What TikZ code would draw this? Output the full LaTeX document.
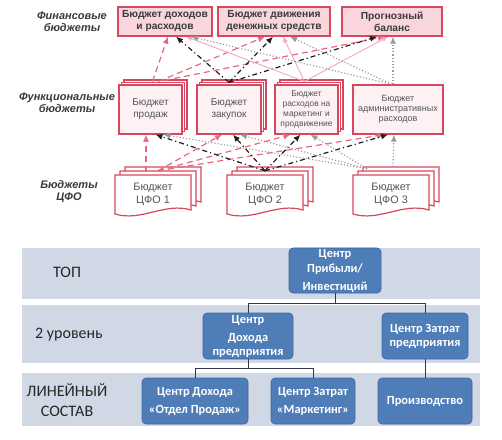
\documentclass[tikz,border=0pt]{standalone}
\usepackage{fontspec}
\setmainfont{Liberation Sans}
\newfontfamily\calfont{Carlito}
\usetikzlibrary{arrows.meta,shadows}

\definecolor{pinkline}{HTML}{D9475F}
\definecolor{finfill}{HTML}{F9D6DC}
\definecolor{funcfill}{HTML}{FDF1F3}
\definecolor{pinkarrow}{HTML}{E8687E}
\definecolor{lightpink}{HTML}{F4A9B6}
\definecolor{darkdash}{HTML}{1E1E1E}
\definecolor{grayarrow}{HTML}{9A9A9A}
\definecolor{bandfill}{HTML}{D0D8E6}
\definecolor{nodeblue}{HTML}{4F7DB8}
\definecolor{nodeedge}{HTML}{3D689F}
\definecolor{linkline}{HTML}{2E3A4A}
\definecolor{labeltext}{HTML}{3A3A3A}
\definecolor{boxtext}{HTML}{555555}

\newcommand{\docpage}[3]{%
  \filldraw[docstyle] (#1,#2) -- ({#1+#3},#2) -- ({#1+#3},{#2+35})
    .. controls ({#1+0.65*#3},{#2+27}) and ({#1+0.35*#3},{#2+47}) .. (#1,{#2+39}) -- cycle;}

\begin{document}
\begin{tikzpicture}[x=1pt,y=-1pt,
  fin/.style={draw=pinkline, line width=1.3pt, fill=finfill, minimum height=29pt,
    align=center, inner sep=1pt, font=\fontsize{10.2}{12}\selectfont\bfseries, text=labeltext},
  func/.style={draw=pinkline, line width=1.2pt, fill=funcfill, minimum height=49pt,
    align=center, inner sep=1pt, font=\fontsize{10}{12}\selectfont, text=boxtext},
  stack/.style={double copy shadow={shadow xshift=2.5pt, shadow yshift=2.5pt,
    fill=white, draw=pinkline, line width=1.2pt}},
  docstyle/.style={draw=pinkline, line width=1.2pt, fill=white},
  doctext/.style={minimum width=76pt, minimum height=39pt, inner sep=0pt, align=center,
    font=\fontsize{10.8}{13}\selectfont, text=boxtext},
  lbl/.style={align=center, inner sep=0pt, font=\fontsize{11}{11.5}\selectfont\bfseries\itshape, text=labeltext},
  pinkdash/.style={draw=pinkarrow, line width=1.2pt, dash pattern=on 6pt off 4pt,
    -{Latex[length=7pt,width=6pt]}},
  blackdd/.style={draw=darkdash, line width=1.2pt, dash pattern=on 5pt off 3pt on 1.2pt off 3pt,
    -{Latex[length=7pt,width=6pt]}},
  pinksolid/.style={draw=lightpink, line width=0.9pt, -{Latex[length=6pt,width=5pt]}},
  graydot/.style={draw=grayarrow, line width=1.1pt, dash pattern=on 1.2pt off 2pt,
    -{Latex[length=7pt,width=6pt]}},
  band/.style={fill=bandfill, draw=none},
  bandlbl/.style={align=center, inner sep=0pt, font=\calfont\fontsize{16}{18}\selectfont, text=black!85},
  bnode/.style={rectangle, rounded corners=4pt, fill=nodeblue, draw=nodeedge, line width=0.6pt,
    text=white, font=\calfont\bfseries\fontsize{12.4}{14}\selectfont, align=center, inner sep=1pt,
    minimum height=46pt},
  link/.style={draw=linkline, line width=1pt}
]
\useasboundingbox (0,0) rectangle (502,439);

% ---------- upper part: budgets ----------
\node[lbl] (lfin) at (72,21.5) {Финансовые\\бюджеты};
\node[lbl] (lfunc) at (67,102.5) {Функциональные\\бюджеты};
\node[lbl] (lcfo) at (69,191.5) {Бюджеты\\ЦФО};

\node[fin, minimum width=94pt] (bdr) at (165,21.5) {Бюджет доходов\\и расходов};
\node[fin, minimum width=112pt] (dds) at (274,21.5) {Бюджет движения\\денежных средств};
\node[fin, minimum width=100pt] (bal) at (392,21.5) {Прогнозный\\баланс};

\node[func, stack, minimum width=63pt] (prod) at (150.5,109.5) {Бюджет\\продаж};
\node[func, stack, minimum width=64pt] (zak) at (229,109.5) {Бюджет\\закупок};
\node[func, stack, minimum width=63pt, font=\fontsize{8.4}{10}\selectfont] (mark) at (306.5,109.5)
  {Бюджет\\расходов на\\маркетинг и\\продвижение};
\node[func, minimum width=90pt, font=\fontsize{9}{10}\selectfont] (adm) at (398,109.5)
  {Бюджет\\административных\\расходов};

\docpage{125}{167}{76}
\docpage{120}{171}{76}
\docpage{115}{175}{76}
\node[doctext] (cfo1) at (153,194.5) {Бюджет\\ЦФО 1};
\docpage{237}{167}{76}
\docpage{232}{171}{76}
\docpage{227}{175}{76}
\node[doctext] (cfo2) at (265,194.5) {Бюджет\\ЦФО 2};
\docpage{363}{167}{76}
\docpage{358}{171}{76}
\docpage{353}{175}{76}
\node[doctext] (cfo3) at (391,194.5) {Бюджет\\ЦФО 3};

% functional -> financial
\draw[pinkdash] ([xshift=2pt,yshift=3pt]prod.north) -- ([xshift=3pt]bdr.south);
\draw[pinkdash] ([xshift=8pt,yshift=3pt]prod.north) -- ([xshift=-9pt]dds.south);
\draw[pinkdash] ([xshift=14pt,yshift=4pt]prod.north) -- ([xshift=-7pt]bal.south);
\draw[blackdd] ([yshift=2pt]zak.north) -- ([xshift=11pt]bdr.south);
\draw[blackdd] ([yshift=2pt]zak.north) -- ([xshift=-1pt]dds.south);
\draw[blackdd] ([yshift=2pt]zak.north) -- ([xshift=-15pt]bal.south);
\draw[pinksolid] ([xshift=-2pt,yshift=3pt]mark.north) -- ([xshift=21pt]bdr.south);
\draw[pinksolid] ([xshift=-2pt,yshift=3pt]mark.north) -- ([xshift=9pt]dds.south);
\draw[pinksolid] ([xshift=-2pt,yshift=3pt]mark.north) -- ([xshift=-4pt]bal.south);
\draw[graydot] ([xshift=-6pt]adm.north) -- ([xshift=26pt]bdr.south);
\draw[graydot] ([xshift=-6pt]adm.north) -- ([xshift=16pt]dds.south);
\draw[graydot] ([xshift=-5pt]adm.north) -- ([xshift=1pt]bal.south);

% CFO -> functional
\draw[pinkdash] ([xshift=-7pt,yshift=3pt]cfo1.north) -- ([xshift=-4.5pt]prod.south);
\draw[pinkdash] ([xshift=5pt,yshift=4pt]cfo1.north) -- ([xshift=-7pt]zak.south);
\draw[pinkdash] ([xshift=5pt,yshift=4pt]cfo1.north) -- ([xshift=-16pt]mark.south);
\draw[pinkdash] ([xshift=5pt,yshift=4pt]cfo1.north) -- ([xshift=-14pt]adm.south);
\draw[blackdd] ([yshift=4pt]cfo2.north) -- ([xshift=5pt]prod.south);
\draw[blackdd] ([yshift=4pt]cfo2.north) -- ([xshift=4pt]zak.south);
\draw[blackdd] ([yshift=4pt]cfo2.north) -- ([xshift=-6pt]mark.south);
\draw[blackdd] ([yshift=4pt]cfo2.north) -- ([xshift=-10pt]adm.south);
\draw[graydot] ([xshift=-24pt,yshift=6pt]cfo3.north) -- ([xshift=13pt]prod.south);
\draw[graydot] ([xshift=-24pt,yshift=6pt]cfo3.north) -- ([xshift=11pt]zak.south);
\draw[graydot] ([xshift=-24pt,yshift=6pt]cfo3.north) -- ([xshift=4pt]mark.south);
\draw[graydot] ([xshift=2pt,yshift=8pt]cfo3.north) -- ([xshift=-4pt]adm.south);

% ---------- lower part: responsibility centres ----------
\fill[band] (22,248) rectangle (480,299);
\fill[band] (22,305) rectangle (480,363);
\fill[band] (22,373) rectangle (480,426);

\node[bandlbl] (ltop) at (67,272) {ТОП};
\node[bandlbl] (llev) at (69,335) {2 уровень};
\node[bandlbl] (llin) at (67,400) {ЛИНЕЙНЫЙ\\[2pt]СОСТАВ};

\node[bnode, minimum width=92pt, minimum height=45pt] (ctop) at (335,270.5)
  {Центр\\[1pt]Прибыли/\\[4pt]Инвестиций};
\node[bnode, minimum width=90pt] (cdoh) at (248,336) {Центр\\[4pt]Дохода\\предприятия};
\node[bnode, minimum width=86pt] (czat) at (425,336) {Центр Затрат\\предприятия};
\node[bnode, minimum width=106pt] (cprod) at (195,401) {Центр Дохода\\[4pt]«Отдел Продаж»};
\node[bnode, minimum width=84pt] (cmark) at (313,401) {Центр Затрат\\[4pt]«Маркетинг»};
\node[bnode, minimum width=94pt] (cpr) at (425,401) {Производство};

\draw[link] (ctop.south) -- ++(0,10) -| (cdoh.north);
\draw[link] (ctop.south) -- ++(0,10) -| (czat.north);
\draw[link] (cdoh.south) -- ++(0,9.5) -| (cprod.north);
\draw[link] (cdoh.south) -- ++(0,9.5) -| (cmark.north);
\draw[link] (czat.south) -- (cpr.north);
\end{tikzpicture}
\end{document}
